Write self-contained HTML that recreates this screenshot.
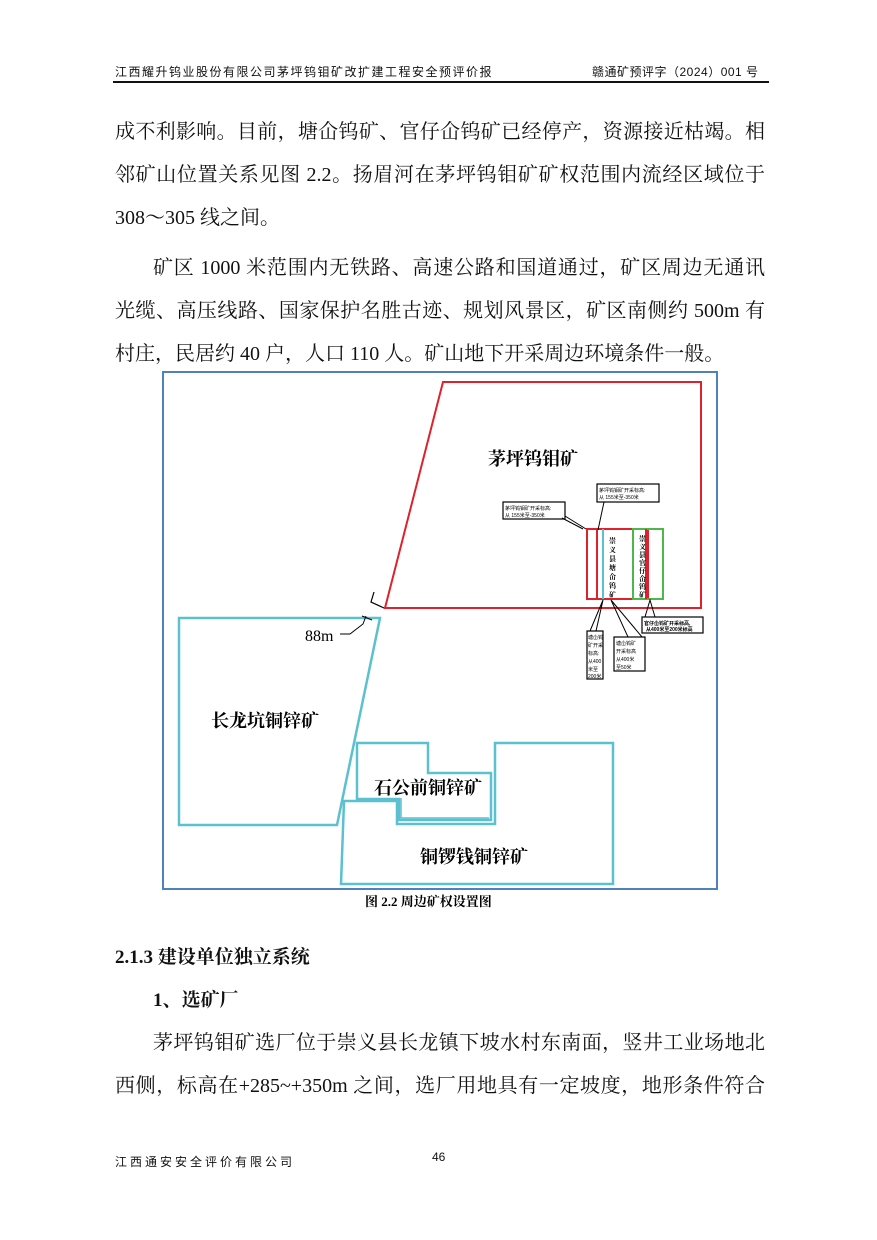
<!DOCTYPE html>
<html><head><meta charset="utf-8">
<style>
html,body{margin:0;padding:0;background:#fff;}
body{width:877px;height:1240px;position:relative;overflow:hidden;}
.t{position:absolute;white-space:nowrap;font-family:"Liberation Serif","Noto Serif CJK SC",serif;font-size:20px;color:#111;line-height:24px;}
.j{text-align:justify;text-align-last:justify;white-space:normal;}
.s{font-family:"Liberation Sans","Noto Sans CJK SC",sans-serif;font-size:12px;color:#111;}
.b{font-weight:bold;}
</style></head><body>
<div class="t s" style="left:115px;top:60px;letter-spacing:1.5px;">江西耀升钨业股份有限公司茅坪钨钼矿改扩建工程安全预评价报</div>
<div class="t s" style="left:592px;top:60px;letter-spacing:0.5px;">赣通矿预评字（2024）001 号</div>
<div style="position:absolute;left:113px;top:81px;width:656px;height:2px;background:#111;"></div>

<div class="t j" style="left:115px;top:120px;width:650px;">成不利影响。目前，塘仚钨矿、官仔仚钨矿已经停产，资源接近枯竭。相</div>
<div class="t j" style="left:115px;top:163px;width:650px;">邻矿山位置关系见图 2.2。扬眉河在茅坪钨钼矿矿权范围内流经区域位于</div>
<div class="t" style="left:115px;top:206px;">308～305 线之间。</div>
<div class="t j" style="left:153px;top:256px;width:612px;">矿区 1000 米范围内无铁路、高速公路和国道通过，矿区周边无通讯</div>
<div class="t j" style="left:115px;top:299px;width:650px;">光缆、高压线路、国家保护名胜古迹、规划风景区，矿区南侧约 500m 有</div>
<div class="t" style="left:115px;top:342px;">村庄，民居约 40 户，人口 110 人。矿山地下开采周边环境条件一般。</div>

<svg style="position:absolute;left:0;top:0" width="877" height="1240">
<rect x="163" y="372" width="554" height="517" fill="none" stroke="#4f81bd" stroke-width="2"/>
<polygon points="443,382 701,382 701,608 385,608" fill="none" stroke="#e0202a" stroke-width="2"/>
<polygon points="179,618 380,618 337,825 179,825" fill="none" stroke="#5bc0d0" stroke-width="2.5"/>
<polygon points="357,743 428,743 428,773 491,773 491,820 399,820 399,799 357,799" fill="none" stroke="#5bc0d0" stroke-width="2.5"/>
<polyline points="401,798 401,818 489,818" fill="none" stroke="#5bc0d0" stroke-width="1.5"/>
<polygon points="495,743 613,743 613,884 341,884 344,801 397,801 397,824 495,824" fill="none" stroke="#5bc0d0" stroke-width="2.5"/>
<polyline points="374,592 371,602 384,608" fill="none" stroke="#000" stroke-width="1.2"/>
<polyline points="366,616 363,624 350,634 340,634" fill="none" stroke="#000" stroke-width="1"/>
<polyline points="362,616 372,620" fill="none" stroke="#000" stroke-width="1"/>
<rect x="587" y="529" width="61" height="70" fill="none" stroke="#e0202a" stroke-width="2"/>
<line x1="597" y1="529" x2="597" y2="599" stroke="#e0202a" stroke-width="2"/>
<line x1="603" y1="529" x2="603" y2="599" stroke="#5bc0d0" stroke-width="2"/>
<rect x="633" y="529" width="30" height="70" fill="none" stroke="#4cb848" stroke-width="2"/>
<line x1="646" y1="529" x2="646" y2="599" stroke="#e0202a" stroke-width="2"/>
<rect x="503" y="502" width="62" height="17" fill="#fff" stroke="#000" stroke-width="1.2"/>
<polyline points="565,516 586,529" fill="none" stroke="#000"/>
<polyline points="562,518 583,529" fill="none" stroke="#000"/>
<rect x="597" y="484" width="62" height="18" fill="#fff" stroke="#000" stroke-width="1.2"/>
<line x1="604" y1="502" x2="598" y2="530" stroke="#000"/>
<rect x="587" y="631" width="16" height="48" fill="#fff" stroke="#000" stroke-width="1.2"/>
<polyline points="590,631 603,600 596,631" fill="none" stroke="#000"/>
<rect x="614" y="637" width="31" height="34" fill="#fff" stroke="#000" stroke-width="1.2"/>
<polyline points="628,637 611,600 642,637" fill="none" stroke="#000"/>
<rect x="642" y="617" width="61" height="16" fill="#fff" stroke="#000" stroke-width="1.2"/>
<polyline points="645,617 650,600 655,617" fill="none" stroke="#000"/>
<g font-family="Liberation Sans,Noto Sans CJK SC,sans-serif" font-size="5" fill="#000">
<text x="505" y="510">茅坪钨钼矿开采标高:</text><text x="505" y="517">从 155米至-350米</text>
<text x="599" y="492">茅坪钨钼矿开采标高:</text><text x="599" y="499">从 155米至-350米</text>
<text x="588" y="639">塘仚钨</text><text x="588" y="647">矿开采</text><text x="588" y="655">标高:</text><text x="588" y="663">从400</text><text x="588" y="671">米至</text><text x="588" y="678">200米</text>
<text x="616" y="645">塘仚钨矿</text><text x="616" y="653">开采标高</text><text x="616" y="661">从400米</text><text x="616" y="669">至50米</text>
<text x="644" y="625" font-weight="bold">官仔仚钨矿开采标高,</text><text x="646" y="631" font-weight="bold">从400米至200米标高</text>
</g>
<g font-family="Liberation Serif,Noto Serif CJK SC,serif" font-size="7" font-weight="bold" fill="#000">
<text x="609" y="543">崇</text><text x="609" y="552">义</text><text x="609" y="561">县</text><text x="609" y="570">塘</text><text x="609" y="579">仚</text><text x="609" y="588">钨</text><text x="609" y="597">矿</text>
<text x="639" y="541">崇</text><text x="639" y="549">义</text><text x="639" y="557">县</text><text x="639" y="565">官</text><text x="639" y="573">仔</text><text x="639" y="581">仚</text><text x="639" y="589">钨</text><text x="639" y="597">矿</text>
</g>
<g font-family="Liberation Serif,Noto Serif CJK SC,serif" fill="#000">
<text x="488" y="465" font-size="18" font-weight="bold">茅坪钨钼矿</text>
<text x="305" y="641" font-size="16">88m</text>
<text x="211" y="727" font-size="18" font-weight="bold">长龙坑铜锌矿</text>
<text x="374" y="794" font-size="18" font-weight="bold">石公前铜锌矿</text>
<text x="420" y="863" font-size="18" font-weight="bold">铜锣钱铜锌矿</text>
<text x="365" y="906" font-size="13" font-weight="bold">图 2.2 周边矿权设置图</text>
</g>
</svg>

<div class="t b" style="left:115px;top:946px;font-size:19px;">2.1.3 建设单位独立系统</div>
<div class="t b" style="left:153px;top:989px;font-size:19px;">1、选矿厂</div>
<div class="t j" style="left:153px;top:1031px;width:612px;">茅坪钨钼矿选厂位于崇义县长龙镇下坡水村东南面，竖井工业场地北</div>
<div class="t j" style="left:115px;top:1074px;width:650px;">西侧，标高在+285~+350m 之间，选厂用地具有一定坡度，地形条件符合</div>
<div class="t s" style="left:115px;top:1150px;letter-spacing:3px;">江西通安安全评价有限公司</div>
<div class="t s" style="left:432px;top:1145px;">46</div>
</body></html>
